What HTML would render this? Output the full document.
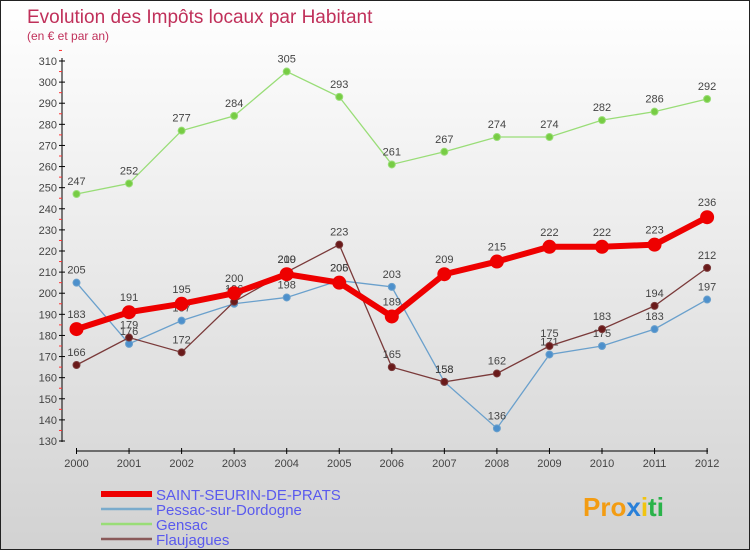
<!DOCTYPE html>
<html><head><meta charset="utf-8"><style>
body{margin:0}
#c{width:750px;height:550px;position:relative;box-sizing:border-box;border:1px solid #222;background:linear-gradient(#fff,#d2d2d2);font-family:"Liberation Sans",sans-serif;overflow:hidden}
</style></head><body>
<div id="c">
<svg id="s" width="750" height="550" style="position:absolute;left:0;top:0">
<text x="26" y="22" font-size="19" fill="#c0305a">Evolution des Impôts locaux par Habitant</text>
<text x="26" y="39" font-size="12" fill="#c0305a">(en € et par an)</text>
<g id="ax"></g><g id="ser"></g><g id="leg"></g>
<text x="582" y="515" font-size="26" font-weight="bold"><tspan fill="#f39c12">Pro</tspan><tspan fill="#2980d9">x</tspan><tspan fill="#f1c40f">i</tspan><tspan fill="#2ab34a">ti</tspan></text>
</svg>
</div>
<script>
const years=[2000,2001,2002,2003,2004,2005,2006,2007,2008,2009,2010,2011,2012];
const yTicks=[130,140,150,160,170,180,190,200,210,220,230,240,250,260,270,280,290,300,310];
const ssdp=[183,191,195,200,209,205,189,209,215,222,222,223,236];
const pessac=[205,176,187,195,198,206,203,158,136,171,175,183,197];
const gensac=[247,252,277,284,305,293,261,267,274,274,282,286,292];
const flauj=[166,179,172,196,210,223,165,158,162,175,183,194,212];
const NS="http://www.w3.org/2000/svg";
const X=i=>75.5+i*52.55;
const Y=v=>440-(v-130)*(380/180);
function mk(t,a,p){const e=document.createElementNS(NS,t);for(const k in a)e.setAttribute(k,a[k]);p.appendChild(e);return e;}
const ax=document.getElementById('ax');
let l=mk('line',{x1:61,y1:57,x2:61,y2:441,stroke:'#000'},ax);


yTicks.forEach(v=>{
 mk('line',{x1:58,y1:Y(v),x2:64,y2:Y(v),stroke:'#000'},ax);
 mk('line',{x1:58,y1:Y(v+5),x2:61,y2:Y(v+5),stroke:'#f33'},ax);
 const t=mk('text',{x:56,y:Y(v)+4,'font-size':11,'text-anchor':'end',fill:'#444'},ax);t.textContent=v;
 
 
});
l=mk('line',{x1:75,y1:450,x2:707,y2:450,stroke:'#000'},ax);


years.forEach((y,i)=>{
 mk('line',{x1:X(i),y1:447,x2:X(i),y2:453,stroke:'#000'},ax);
 const t=mk('text',{x:X(i),y:466,'font-size':11,'text-anchor':'middle',fill:'#444'},ax);t.textContent=y;
 
 
});
const ser=document.getElementById('ser');
function draw(d,col,dot,w,r,name,lab){
 const g=mk('g',{},ser);
 
 
 const p=mk('polyline',{points:d.map((v,i)=>X(i)+','+Y(v)).join(' '),fill:'none',stroke:col,'stroke-width':w},g);
 d.forEach((v,i)=>{
  const c=mk('circle',{cx:X(i),cy:Y(v),r:r,fill:dot,stroke:col,'stroke-width':1},g);
  
  
  const t=mk('text',{x:X(i),y:Y(v)+lab,'font-size':11,'text-anchor':'middle',fill:'#444'},g);t.textContent=v;
  
  
 });
}
draw(gensac,'#99dd77','#77cc44',1.3,3.5,'gensac',-9);
draw(pessac,'#6aa0cc','#4d90cc',1.3,3.5,'pessac',-9);
draw(flauj,'#7a3a3a','#6a1a1a',1.3,3.5,'flaujagues',-9);
draw(ssdp,'#ee0000','#ee0000',6,6.5,'saint-seurin',-11);
const leg=document.getElementById('leg');
[['SAINT-SEURIN-DE-PRATS','#ee0000',6],['Pessac-sur-Dordogne','#7aabcc',2.5],['Gensac','#99dd77',2.5],['Flaujagues','#8a5a5a',2.5]].forEach((e,i)=>{
 const y=493+i*15;
 const ln=mk('line',{x1:100,y1:y,x2:151,y2:y,stroke:e[1],'stroke-width':e[2]},leg);
 
 
 const t=mk('text',{x:155,y:y+6,'font-size':15,fill:'#5a5aee'},leg);t.textContent=e[0];
 
 
});
</script>
</body></html>
